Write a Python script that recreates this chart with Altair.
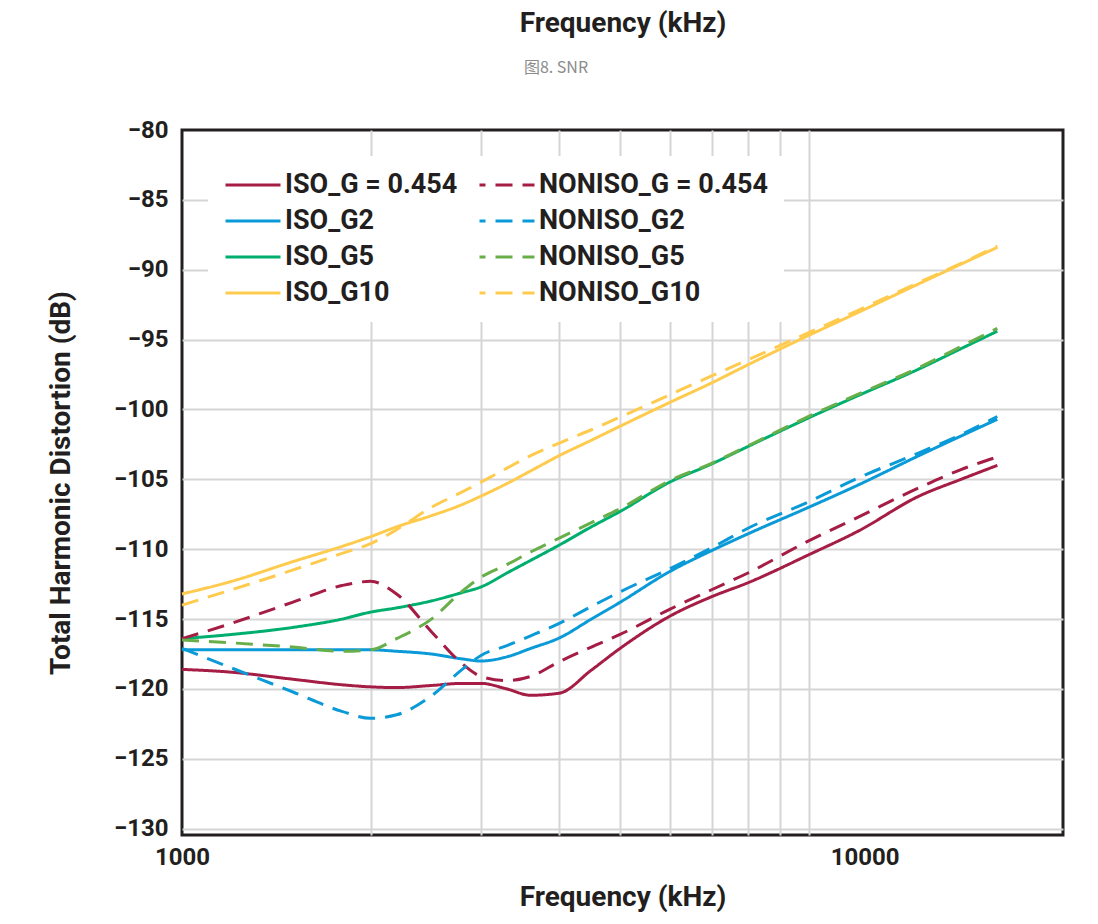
import altair as alt
import pandas as pd

FREQ = [1000, 1200, 1500, 1800, 2000, 2200, 2500, 2800, 3000, 3300, 3600,
        4000, 4500, 5000, 6000, 7000, 8000, 10000, 12000, 15000, 17500, 20000]

ISO_G0454 = [-118.6, -118.8, -119.3, -119.7, -119.85, -119.9, -119.75, -119.6, -119.6, -120.0, -120.45,
             -120.3, -118.65, -117.1, -114.8, -113.4, -112.4, -110.4, -108.7, -106.2, -105.0, -104.0]
NONISO_G0454 = [-116.4, -115.3, -113.8, -112.6, -112.3, -113.2, -115.9, -118.2, -119.1, -119.4, -119.1,
                -118.05, -117.0, -116.1, -114.3, -112.9, -111.7, -109.4, -107.7, -105.6, -104.3, -103.4]
ISO_G2 = [-117.2, -117.2, -117.2, -117.2, -117.2, -117.3, -117.5, -117.85, -118.0, -117.7, -117.1,
          -116.35, -115.0, -113.8, -111.6, -110.1, -108.9, -107.0, -105.4, -103.3, -101.9, -100.7]
NONISO_G2 = [-117.1, -118.5, -120.2, -121.6, -122.1, -121.85, -120.5, -118.6, -117.6, -116.9, -116.2,
             -115.3, -114.1, -113.05, -111.4, -109.9, -108.5, -106.6, -104.9, -103.1, -101.8, -100.5]
ISO_G5 = [-116.4, -116.1, -115.6, -115.0, -114.5, -114.2, -113.7, -113.1, -112.7, -111.7, -110.8,
          -109.7, -108.4, -107.3, -105.2, -103.9, -102.65, -100.6, -99.0, -97.1, -95.65, -94.4]
NONISO_G5 = [-116.5, -116.7, -117.0, -117.3, -117.2, -116.4, -115.0, -113.0, -112.0, -111.1, -110.2,
             -109.2, -108.1, -107.1, -105.1, -103.85, -102.6, -100.5, -98.9, -97.0, -95.5, -94.2]
ISO_G10 = [-113.2, -112.3, -110.9, -109.8, -109.1, -108.4, -107.6, -106.8, -106.2, -105.3, -104.4,
           -103.3, -102.2, -101.2, -99.5, -98.1, -96.8, -94.7, -93.05, -91.0, -89.6, -88.4]
NONISO_G10 = [-114.0, -112.9, -111.5, -110.3, -109.6, -108.6, -107.0, -105.9, -105.2, -104.2, -103.3,
              -102.4, -101.45, -100.55, -98.95, -97.6, -96.45, -94.5, -92.9, -90.9, -89.55, -88.3]

# legend order: first column ISO, second column NONISO
SERIES = ["ISO_G = 0.454", "ISO_G2", "ISO_G5", "ISO_G10",
          "NONISO_G = 0.454", "NONISO_G2", "NONISO_G5", "NONISO_G10"]
VALUES = [ISO_G0454, ISO_G2, ISO_G5, ISO_G10, NONISO_G0454, NONISO_G2, NONISO_G5, NONISO_G10]
COLORS = ["#A51D45", "#0A9AD8", "#00AE6E", "#FFCB4E", "#A51D45", "#0A9AD8", "#68AF4A", "#FFCB4E"]
DASHES = [[1, 0], [1, 0], [1, 0], [1, 0], [17, 10], [17, 10], [17, 10], [17, 10]]

X_GRID = [1000, 2000, 3000, 4000, 5000, 6000, 7000, 8000, 9000, 10000]
Y_TICKS = [-130, -125, -120, -115, -110, -105, -100, -95, -90, -85, -80]

TOP_TITLE = "Frequency (kHz)"
CAPTION = "图8. SNR"
X_TITLE = "Frequency (kHz)"
Y_TITLE = "Total Harmonic Distortion (dB)"

rows = []
for name, vals in zip(SERIES, VALUES):
    for f, v in zip(FREQ, vals):
        rows.append({"series": name, "freq": f, "thd": v})
df = pd.DataFrame(rows)

FONT = "Roboto"
INK = "#231f20"
GRID = "#d5d5d5"

legend = alt.Legend(
    title=None, orient="none", legendX=26, legendY=26, columns=2,
    columnPadding=20, rowPadding=9, clipHeight=26, symbolType="stroke", symbolSize=3025,
    symbolStrokeWidth=3, symbolDashOffset=11, labelFont=FONT, labelFontSize=27,
    labelFontWeight="bold", labelColor=INK, labelOffset=3, labelLimit=500,
    fillColor="white", padding=16,
)

lines = alt.Chart(df).mark_line(strokeWidth=3, interpolate="monotone").encode(
    x=alt.X("freq:Q",
            scale=alt.Scale(type="log", domain=[1000, 25460], nice=False),
            axis=alt.Axis(values=X_GRID, format="d",
                          labelExpr="(datum.value == 1000 || datum.value == 10000) ? datum.label : ''",
                          labelOffset={"condition": {"test": "datum.value == 10000", "value": 56}, "value": 0},
                          gridOpacity={"condition": {"test": "datum.value == 1000", "value": 0}, "value": 1},
                          labelFlush=False, labelOverlap=False, ticks=False, domain=False,
                          grid=True, gridColor=GRID, gridWidth=2,
                          labelFont=FONT, labelFontSize=24, labelFontWeight="bold", labelColor=INK,
                          labelPadding=10, title=X_TITLE, titleFont=FONT, titleFontSize=28,
                          titleFontWeight="bold", titleColor=INK, titlePadding=14)),
    y=alt.Y("thd:Q",
            scale=alt.Scale(domain=[-130.45, -80], nice=False, zero=False),
            axis=alt.Axis(values=Y_TICKS, format="d", ticks=False, domain=False,
                          gridOpacity={"condition": {"test": "datum.value == -80", "value": 0}, "value": 1},
                          grid=True, gridColor=GRID, gridWidth=2, labelOverlap=False,
                          labelFont=FONT, labelFontSize=24, labelFontWeight="bold", labelColor=INK,
                          labelPadding=14, title=Y_TITLE, titleFont=FONT, titleFontSize=28,
                          titleFontWeight="bold", titleColor=INK, titlePadding=38)),
    color=alt.Color("series:N", scale=alt.Scale(domain=SERIES, range=COLORS), legend=legend),
    strokeDash=alt.StrokeDash("series:N", scale=alt.Scale(domain=SERIES, range=DASHES), legend=legend),
)

top_title = alt.Chart(pd.DataFrame({"t": [TOP_TITLE]})).mark_text(
    font=FONT, fontSize=28, fontWeight="bold", color=INK, align="center", baseline="middle"
).encode(text="t:N", x=alt.value(441), y=alt.value(-106))

caption = alt.Chart(pd.DataFrame({"caption": [CAPTION]})).mark_text(
    font="Noto Sans CJK SC", fontSize=16, color="#8c8c8c", align="center", baseline="middle"
).encode(text="caption:N", x=alt.value(374), y=alt.value(-62))

chart = alt.layer(lines, top_title, caption).properties(
    width=881, height=705,
    autosize=alt.AutoSizeParams(type="none"),
    padding={"left": 174, "top": 122, "right": 27, "bottom": 81},
).configure_view(stroke=INK, strokeWidth=3)

chart.save("out.html", embed_options={"renderer": "svg", "actions": False})
